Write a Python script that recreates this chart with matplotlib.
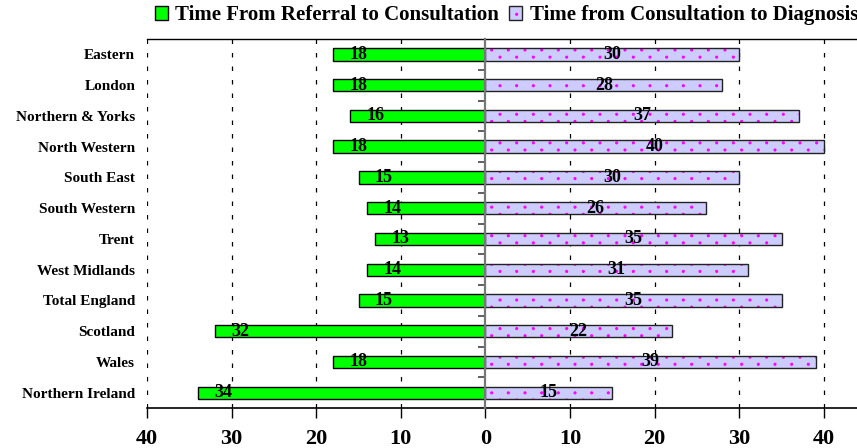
import numpy as np
import matplotlib
matplotlib.use("Agg")
import matplotlib.pyplot as plt
from matplotlib import hatch as mhatch
from matplotlib.path import Path
from matplotlib.patches import Patch
from matplotlib.legend_handler import HandlerTuple

# Waiting times (days) by region
regions = ["Eastern", "London", "Northern & Yorks", "North Western", "South East",
           "South Western", "Trent", "West Midlands", "Total England", "Scotland",
           "Wales", "Northern Ireland"]
referral_to_consult = [18, 18, 16, 18, 15, 14, 13, 14, 15, 32, 18, 34]
consult_to_diagnosis = [30, 28, 37, 40, 30, 26, 35, 31, 35, 22, 39, 15]
series_names = ["Time From Referral to Consultation",
                "Time from Consultation to Diagnosis"]
x_ticks = [-40, -30, -20, -10, 0, 10, 20, 30, 40]
x_tick_labels = ["40", "30", "20", "10", "0", "10", "20", "30", "40"]


class SparseDots(mhatch.HatchPatternBase):
    """Staggered grid of small dots: wide column spacing, tight row spacing."""
    n_rows = 14
    n_cols = 6
    radius = 0.010

    def __init__(self, hatch, density):
        self.centers = []
        if '.' in hatch:
            for r in range(self.n_rows + 1):
                yy = r / self.n_rows
                if r % 2 == 0:
                    xs = np.linspace(0, 1, self.n_cols + 1)
                else:
                    xs = np.linspace(0.5 / self.n_cols, 1 - 0.5 / self.n_cols,
                                     self.n_cols)
                self.centers.extend((xx, yy) for xx in xs)
        circ = Path.unit_circle()
        self.shape_v = circ.vertices * self.radius
        self.shape_c = circ.codes
        self.num_vertices = len(self.centers) * len(self.shape_v)

    def set_vertices_and_codes(self, vertices, codes):
        n = len(self.shape_v)
        for i, (cx, cy) in enumerate(self.centers):
            vertices[i * n:(i + 1) * n] = self.shape_v + (cx, cy)
            codes[i * n:(i + 1) * n] = self.shape_c


mhatch._hatch_types = [SparseDots if t is mhatch.SmallFilledCircles else t
                       for t in mhatch._hatch_types]

plt.rcParams['font.family'] = ['Liberation Serif', 'DejaVu Serif']
plt.rcParams['font.weight'] = 'bold'
plt.rcParams['hatch.linewidth'] = 0.8

GREEN = '#00FF00'
LAVENDER = '#CCCCFF'
DOT = '#FF00FF'

fig = plt.figure(figsize=(8.57, 4.48), dpi=100)
ax = fig.add_axes([0.1715, 0.089, 0.8285, 0.824])

y = np.arange(len(regions))
left_vals = -np.array(referral_to_consult, dtype=float)
right_vals = np.array(consult_to_diagnosis, dtype=float)
bar_h = 0.4

ax.barh(y, left_vals, height=bar_h, color=GREEN, edgecolor='black',
        linewidth=1.0, zorder=3)
ax.barh(y, right_vals, height=bar_h, color=LAVENDER, edgecolor=DOT,
        linewidth=0, hatch='.', zorder=3)
ax.barh(y, right_vals, height=bar_h, fill=False, edgecolor='#222222',
        linewidth=1.0, zorder=4)

# value labels
for yi, lv, rv in zip(y, referral_to_consult, consult_to_diagnosis):
    ax.text(-lv + 3.0, yi, f"{lv}", ha='center', va='center',
            fontsize=13, fontweight='bold', zorder=6)
    ax.text(rv / 2.0, yi, f"{rv}", ha='center', va='center',
            fontsize=13, fontweight='bold', zorder=6)

xmin, xmax = -40, 43.9
ax.set_xlim(xmin, xmax)
ax.set_ylim(len(regions) - 0.5, -0.5)

ax.set_xticks(x_ticks)
ax.set_xticklabels(x_tick_labels, fontsize=16, fontweight='bold')
ax.tick_params(axis='x', direction='out', length=7, width=1, pad=8)

ax.set_yticks(y)
ax.set_yticklabels(regions, fontsize=11, fontweight='bold')
ax.tick_params(axis='y', length=0, pad=8.5)

# dashed vertical gridlines
ax.xaxis.grid(True, linestyle=(0, (3.6, 7.2)), color='black', linewidth=0.9,
              zorder=0)
ax.set_axisbelow(True)
for t, gl in zip(x_ticks, ax.get_xgridlines()):
    if t == 0:
        gl.set_visible(False)

for s in ['left', 'right']:
    ax.spines[s].set_visible(False)
ax.spines['top'].set_linewidth(1.0)
ax.spines['bottom'].set_linewidth(1.2)

# category axis along zero with ticks between rows
zero_pos = (0 - xmin) / (xmax - xmin)
sec = ax.secondary_yaxis(zero_pos)
sec.set_yticks(np.arange(len(regions) - 1) + 0.5)
sec.tick_params(axis='y', length=5, width=1.2, color='#444444',
                labelleft=False, labelright=False)
for s in sec.spines.values():
    s.set_color('#777777')
    s.set_linewidth(1.6)
sec.set_zorder(5)

# legend
h1 = Patch(facecolor=GREEN, edgecolor='black', linewidth=1.0)
h2a = Patch(facecolor=LAVENDER, edgecolor=DOT, linewidth=0, hatch='.')
h2b = Patch(fill=False, edgecolor='#222222', linewidth=1.0)
fig.legend([h1, (h2a, h2b)], series_names, loc='upper left',
           bbox_to_anchor=(155 / 857, 0.988), ncol=2, frameon=False,
           borderpad=0, borderaxespad=0,
           prop={'size': 15, 'weight': 'bold'}, handlelength=0.6,
           handleheight=0.6, handletextpad=0.38, columnspacing=0.48,
           handler_map={tuple: HandlerTuple(ndivide=1)})

fig.savefig("out.png", dpi=100)
